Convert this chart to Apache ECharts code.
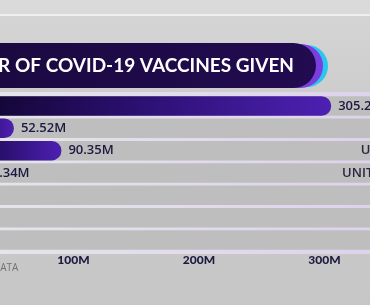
<!DOCTYPE html>
<html><head><meta charset="utf-8">
<script src="https://cdn.jsdelivr.net/npm/echarts@6/dist/echarts.min.js"></script>
<style>html,body{margin:0;padding:0;background:#c9c9c9;}#c{width:370px;height:305px;}</style>
</head><body><div id="c"></div>
<script>
var categories = ["CHINA", "BRAZIL", "UNITED STATES", "UNITED KINGDOM", "GERMANY", "FRANCE", "ITALY"];
var doses = [305.29, 52.52, 90.35, 23.34, 1.20, 0.90, 0.60];
var tickValues = [0, 100, 200, 300, 400];
var titleText = "NUMBER OF COVID-19 VACCINES GIVEN";
var sourceText = "DATA";

var chart = echarts.init(document.getElementById('c'), null, {renderer: 'canvas'});
var baseGraphic = [
  {type: 'rect', z: 0, shape: {x: 0, y: 0, width: 370, height: 14}, style: {fill: '#dadada'}},
  {type: 'rect', z: 0, shape: {x: 0, y: 14, width: 370, height: 2}, style: {fill: '#efefef'}},
  {type: 'rect', z: 0, shape: {x: 0, y: 92, width: 370, height: 162}, style: {
    fill: {type: 'linear', x: 0, y: 0, x2: 1, y2: 0, colorStops: [{offset: 0, color: '#e6e4ea'}, {offset: 1, color: '#ddd3ec'}]}}},
  {type: 'rect', z: 1, shape: {x: -30, y: 45, width: 358, height: 42, r: 21}, style: {fill: '#2bc6ee'}},
  {type: 'rect', z: 2, shape: {x: -30, y: 44, width: 353, height: 44, r: 22}, style: {fill: '#7a3de0'}},
  {type: 'rect', z: 3, shape: {x: -30, y: 43, width: 346, height: 45, r: 22.5}, style: {
    fill: {type: 'linear', x: 0, y: 0, x2: 1, y2: 0, colorStops: [{offset: 0, color: '#1a0940'}, {offset: 1, color: '#220b50'}]}}},
  {type: 'text', z: 4, x: 294, y: 66, style: {text: titleText, fill: '#ffffff', fontSize: 19, fontWeight: 'bold', fontFamily: 'Lato', align: 'right', verticalAlign: 'middle'}},
  {type: 'text', z: 4, x: -7, y: 268, style: {text: sourceText, fill: '#727272', fontSize: 10, fontFamily: 'Open Sans', align: 'left', verticalAlign: 'middle'}}
];
var option = {
  backgroundColor: {
    type: 'linear', x: 0, y: 0, x2: 0, y2: 1,
    colorStops: [{offset: 0, color: '#d6d6d6'}, {offset: 0.3, color: '#cdcdcd'}, {offset: 1, color: '#c6c6c6'}]
  },
  animation: false,
  graphic: baseGraphic,
  grid: {left: -52, right: -80, top: 94.8, bottom: 53.8, containLabel: false, outerBoundsMode: 'none'},
  xAxis: {
    type: 'value', min: 0, max: 400, interval: 100,
    axisLine: {show: false}, axisTick: {show: false}, splitLine: {show: false},
    axisLabel: {
      margin: 3, color: '#1c1a3e', fontSize: 12, fontWeight: 900, fontFamily: 'Lato',
      formatter: function (v) { return tickValues.indexOf(v) >= 0 ? v + 'M' : ''; }
    }
  },
  yAxis: {
    type: 'category', data: categories, inverse: true,
    axisLine: {show: false}, axisTick: {show: false}, axisLabel: {show: false}
  },
  series: [{
    type: 'bar', data: doses, barWidth: 19.5,
    showBackground: true,
    backgroundStyle: {color: '#bebebe'},
    itemStyle: {
      borderRadius: [0, 9.5, 9.5, 0],
      color: {type: 'linear', x: 0, y: 0, x2: 1, y2: 0, colorStops: [{offset: 0, color: '#0c0324'}, {offset: 0.5, color: '#2c1072'}, {offset: 1, color: '#4d20b2'}]}
    },
    label: {
      show: true, position: 'right', distance: 7, color: '#1d1840', fontSize: 13, fontWeight: 600, fontFamily: 'Open Sans',
      formatter: function (p) { return p.value.toFixed(2) + 'M'; }
    }
  }]
};
chart.setOption(option);

// Country names, right-aligned at the end of each track (positions from the library's scales)
var endX = chart.convertToPixel({xAxisIndex: 0}, 400) + 7;
var nameGraphic = categories.map(function (name) {
  var y = chart.convertToPixel({yAxisIndex: 0}, name);
  return {type: 'text', z: 5, x: endX, y: y,
    style: {text: name, fill: '#2a2640', fontSize: 13, fontWeight: 600, fontFamily: 'Open Sans', align: 'right', verticalAlign: 'middle'}};
});
chart.setOption({graphic: baseGraphic.concat(nameGraphic)});
</script></body></html>
